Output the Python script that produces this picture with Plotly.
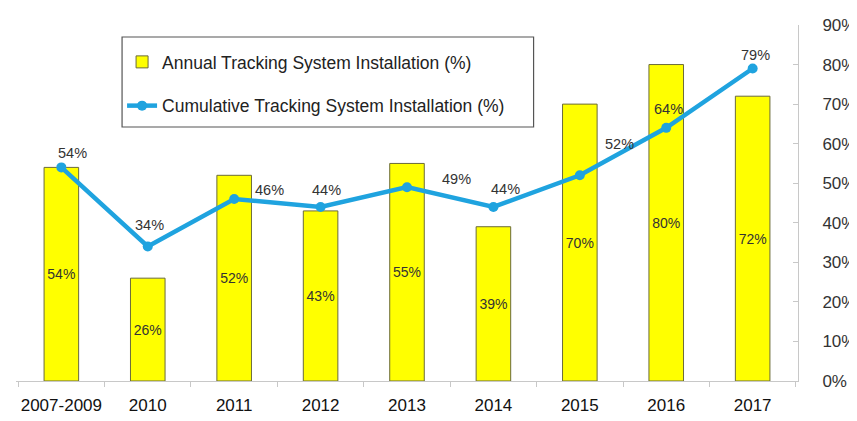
import plotly.graph_objects as go

categories = ["2007-2009", "2010", "2011", "2012", "2013", "2014", "2015", "2016", "2017"]
annual = [54, 26, 52, 43, 55, 39, 70, 80, 72]
cumulative = [54, 34, 46, 44, 49, 44, 52, 64, 79]
y_ticks = [0, 10, 20, 30, 40, 50, 60, 70, 80, 90]
y_tick_labels = [f"{v}%" for v in y_ticks]

# label offsets (px) for cumulative labels
cum_xshift = [11, 2, 35, 6, 49, 12, 40, 2, 3]
cum_yshift = [14, 22, 9, 17, 8, 18, 31, 19, 14]

FONT = "Liberation Sans, Arial, sans-serif"

# plot area in page pixels (page has an 8px body margin)
PL, PR, PT, PB = 16.3, 803, 25, 381
PW, PH = PR - PL, PB - PT

fig = go.Figure()
fig.add_trace(go.Bar(
    x=categories, y=annual, name="Annual Tracking System Installation (%)",
    marker=dict(color="#FFFF00", line=dict(color="#6B6B3A", width=1)),
    width=0.4,
    text=[f"{v}%" for v in annual], textposition="inside", insidetextanchor="middle",
    textangle=0, constraintext="none",
    textfont=dict(family=FONT, size=14, color="#333333"),
    legendgroup="a",
))
fig.add_trace(go.Scatter(
    x=categories, y=cumulative, name="Cumulative Tracking System Installation (%)",
    mode="lines+markers",
    line=dict(color="#1FA3DF", width=4.5),
    marker=dict(color="#1FA3DF", size=10),
    legendgroup="b",
))

# annotations on a category axis: use the category index
for i, (v, dx, dy) in enumerate(zip(cumulative, cum_xshift, cum_yshift)):
    fig.add_annotation(x=i, y=v, text=f"{v}%", showarrow=False,
                       xshift=dx, yshift=dy,
                       font=dict(family=FONT, size=14.5, color="#333333"))

fig.add_shape(type="rect", xref="paper", yref="paper",
              x0=(123 - PL) / PW, x1=(537 - PL) / PW,
              y0=(PB - 127) / PH, y1=(PB - 37) / PH,
              line=dict(color="#555555", width=1.2), fillcolor="white", layer="below")

fig.update_layout(
    width=857, height=421,
    margin=dict(l=PL - 8, r=857 - (PR - 8), t=PT - 8, b=421 - (PB - 8)),
    paper_bgcolor="white", plot_bgcolor="white",
    font=dict(family=FONT, size=17, color="#222222"),
    bargap=0.6,
    legend=dict(
        x=(123 - PL) / PW, y=(PB - 44) / PH, xanchor="left", yanchor="top",
        bgcolor="rgba(0,0,0,0)", borderwidth=0,
        font=dict(family=FONT, size=17.5, color="#222222"),
        tracegroupgap=18, itemwidth=30,
    ),
    xaxis=dict(
        type="category", categoryorder="array", categoryarray=categories,
        showline=True, linecolor="#C8C8C8", linewidth=1,
        ticks="outside", tickson="boundaries", ticklen=5, tickcolor="#C8C8C8",
        showgrid=False, tickfont=dict(size=17, color="#111111"), tickangle=0,
        ticklabelstandoff=9,
    ),
    yaxis=dict(
        side="right", range=[0, 90], tickmode="array",
        tickvals=y_ticks, ticktext=y_tick_labels,
        showline=True, linecolor="#C8C8C8", linewidth=1,
        ticks="inside", ticklen=5, tickcolor="#C8C8C8",
        showgrid=False, zeroline=False,
        ticklabelstandoff=20,
        tickfont=dict(size=17, color="#333333"),
    ),
)

fig.write_html("out.html")
